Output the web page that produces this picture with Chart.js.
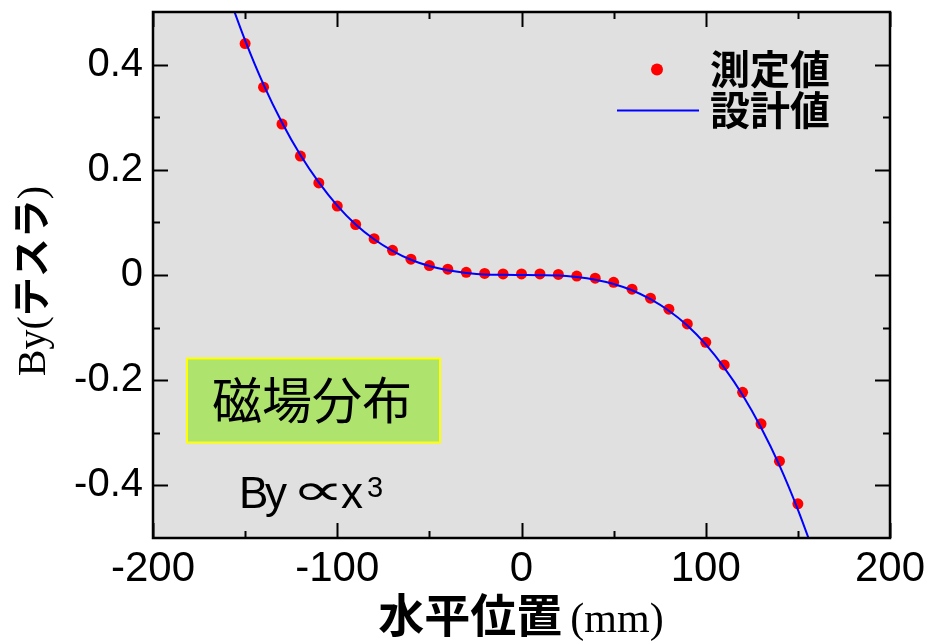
<!DOCTYPE html>
<html>
<head>
<meta charset="utf-8">
<script src="https://cdn.jsdelivr.net/npm/chart.js@4/dist/chart.umd.min.js"></script>
<style>
  html, body { margin: 0; padding: 0; background: #ffffff; }
  #wrap { width: 930px; height: 644px; position: relative; }
</style>
</head>
<body>
<div id="wrap"><canvas id="c" width="930" height="644"></canvas></div>
<script>
// ---- data ----
const positions = [-150,-140,-130,-120,-110,-100,-90,-80,-70,-60,-50,-40,-30,-20,-10,0,10,20,30,40,50,60,70,80,90,100,110,120,130,140,150];
const measuredBy = [0.440,0.357,0.287,0.226,0.175,0.131,0.096,0.069,0.047,0.030,0.018,0.011,0.005,0.003,0.002,0.002,0.002,0.001,-0.002,-0.006,-0.014,-0.027,-0.044,-0.065,-0.093,-0.128,-0.171,-0.223,-0.283,-0.354,-0.435];
const designX = [-160,-150,-140,-130,-120,-110,-100,-90,-80,-70,-60,-50,-40,-30,-20,-10,0,10,20,30,40,50,60,70,80,90,100,110,120,130,140,150,160];
const designBy = [0.541,0.446,0.362,0.290,0.228,0.176,0.132,0.096,0.068,0.046,0.029,0.017,0.009,0.004,0.001,0.0005,0,-0.0005,-0.001,-0.004,-0.009,-0.017,-0.029,-0.046,-0.068,-0.096,-0.132,-0.176,-0.228,-0.290,-0.362,-0.446,-0.541];
const xTickLabels = [-200,-100,0,100,200];
const xMinorTicks = [-150,-50,50,150];
const yTickLabels = [-0.4,-0.2,0,0.2,0.4];
const yMinorTicks = [-0.3,-0.1,0.1,0.3];
const seriesNames = ['測定値','設計値'];
const xTitleMain = '水平位置';
const xTitleUnit = '(mm)';
const yTitleParts = ['By(', 'テスラ', ')'];
const boxLabel = '磁場分布';
const formulaParts = ['B', 'y', '∝', 'x'];
const formulaSup = '3';

const SANS = '"Liberation Sans", Arial, "DejaVu Sans", sans-serif';
const SERIF = '"Liberation Serif", "Times New Roman", serif';
const CJK = '"Noto Sans CJK JP", "Noto Sans CJK SC", sans-serif';

const decor = {
  id: 'decor',
  beforeDatasetsDraw(chart) {
    const {ctx, chartArea: a} = chart;
    ctx.save();
    ctx.fillStyle = '#e0e0e0';
    ctx.fillRect(a.left, a.top, a.right - a.left, a.bottom - a.top);
    ctx.restore();
  },
  afterDatasetsDraw(chart) {
    const {ctx, chartArea: a, scales} = chart;
    const xs = scales.x, ys = scales.y;
    ctx.save();
    ctx.strokeStyle = '#000';
    ctx.lineWidth = 2;
    const xt = (v, len) => {
      const p = Math.round(xs.getPixelForValue(v)) + 0.5;
      ctx.beginPath();
      ctx.moveTo(p, a.bottom); ctx.lineTo(p, a.bottom - len);
      ctx.moveTo(p, a.top); ctx.lineTo(p, a.top + len);
      ctx.stroke();
    };
    xTickLabels.forEach(v => xt(v, 15));
    xMinorTicks.forEach(v => xt(v, 7));
    const yt = (v, len) => {
      const p = Math.round(ys.getPixelForValue(v)) + 0.5;
      ctx.beginPath();
      ctx.moveTo(a.left, p); ctx.lineTo(a.left + len, p);
      ctx.moveTo(a.right, p); ctx.lineTo(a.right - len, p);
      ctx.stroke();
    };
    yTickLabels.forEach(v => yt(v, 15));
    yMinorTicks.forEach(v => yt(v, 7));
    ctx.lineWidth = 2.5;
    ctx.strokeRect(a.left, a.top, a.right - a.left, a.bottom - a.top);
    ctx.restore();
  },
  afterDraw(chart) {
    const {ctx} = chart;
    ctx.save();
    // legend
    ctx.fillStyle = '#ff0000';
    ctx.beginPath(); ctx.arc(657, 69.5, 6, 0, Math.PI * 2); ctx.fill();
    ctx.strokeStyle = '#0000ff'; ctx.lineWidth = 2;
    ctx.beginPath(); ctx.moveTo(617, 110.5); ctx.lineTo(699, 110.5); ctx.stroke();
    ctx.fillStyle = '#000';
    ctx.font = 'bold 40px ' + CJK;
    ctx.textBaseline = 'alphabetic';
    ctx.textAlign = 'left';
    ctx.fillText(seriesNames[0], 710, 84);
    ctx.fillText(seriesNames[1], 710, 125);

    // green label box
    ctx.fillStyle = '#aee36e';
    ctx.fillRect(187, 358.5, 253, 84);
    ctx.strokeStyle = '#ffff00'; ctx.lineWidth = 2;
    ctx.strokeRect(187, 358.5, 253, 84);
    ctx.fillStyle = '#000';
    ctx.font = '50px ' + CJK;
    ctx.textAlign = 'center';
    ctx.fillText(boxLabel, 312, 419);

    // formula, placed piece by piece
    ctx.textAlign = 'left';
    ctx.font = '44px ' + SANS;
    ctx.fillText(formulaParts[0], 239, 508);
    ctx.fillText(formulaParts[1], 265, 508);
    ctx.font = '44px "DejaVu Sans", sans-serif';
    const m = ctx.measureText(formulaParts[2]);
    const gw = (m.actualBoundingBoxRight + m.actualBoundingBoxLeft) || m.width;
    const sc = 39 / gw;
    ctx.save();
    ctx.translate(298, 505);
    ctx.scale(sc, Math.min(sc, 1.0));
    ctx.fillText(formulaParts[2], m.actualBoundingBoxLeft || 0, 0);
    ctx.restore();
    ctx.font = '44px ' + SANS;
    ctx.fillText(formulaParts[3], 341, 508);
    ctx.font = '29px ' + SANS;
    ctx.fillText(formulaSup, 367, 497);

    // x title
    ctx.font = 'bold 46px ' + CJK;
    const w1 = ctx.measureText(xTitleMain).width;
    ctx.font = '42px ' + SERIF;
    const gap = 8;
    const w2 = ctx.measureText(xTitleUnit).width;
    let sx = 521 - (w1 + gap + w2) / 2;
    ctx.font = 'bold 46px ' + CJK;
    ctx.fillText(xTitleMain, sx, 632);
    ctx.font = '42px ' + SERIF;
    ctx.fillText(xTitleUnit, sx + w1 + gap, 632);

    // y title (rotated)
    ctx.translate(0, 281);
    ctx.rotate(-Math.PI / 2);
    const fonts = ['40px ' + SERIF, 'bold 39px ' + CJK, '40px ' + SERIF];
    let tot = 0; const ws = [];
    yTitleParts.forEach((t, i) => { ctx.font = fonts[i]; const w = ctx.measureText(t).width; ws.push(w); tot += w; });
    let px = -tot / 2;
    yTitleParts.forEach((t, i) => { ctx.font = fonts[i]; ctx.fillText(t, px, 45); px += ws[i]; });
    ctx.restore();
  }
};

new Chart(document.getElementById('c'), {
  type: 'scatter',
  data: {
    datasets: [
      {
        type: 'line',
        label: seriesNames[1],
        data: designX.map((x, i) => ({x, y: designBy[i]})),
        borderColor: '#0000ff',
        borderWidth: 2,
        pointRadius: 0,
        fill: false,
        cubicInterpolationMode: 'monotone',
        order: 0
      },
      {
        type: 'scatter',
        label: seriesNames[0],
        data: positions.map((x, i) => ({x, y: measuredBy[i]})),
        backgroundColor: '#ff0000',
        borderColor: '#ff0000',
        borderWidth: 0,
        pointRadius: 5.5,
        order: 1
      }
    ]
  },
  options: {
    responsive: false,
    animation: false,
    devicePixelRatio: 1,
    layout: { padding: { left: 0, right: 40, top: 12, bottom: 0 } },
    plugins: { legend: { display: false }, tooltip: { enabled: false } },
    scales: {
      x: {
        type: 'linear', position: 'bottom', min: -200, max: 200,
        afterBuildTicks: s => { s.ticks = xTickLabels.map(v => ({value: v})); },
        afterFit: s => { s.height = 106; s.paddingLeft = 0; s.paddingRight = 0; },
        grid: { display: false, drawTicks: false },
        border: { display: false },
        ticks: { color: '#000', font: { family: SANS, size: 42 }, padding: 6, maxRotation: 0, autoSkip: false,
                 callback: v => String(v) }
      },
      y: {
        type: 'linear', position: 'left', min: -0.5, max: 0.5,
        afterBuildTicks: s => { s.ticks = yTickLabels.map(v => ({value: v})); },
        afterFit: s => { s.width = 153; s.paddingTop = 0; s.paddingBottom = 0; },
        grid: { display: false, drawTicks: false },
        border: { display: false },
        ticks: { color: '#000', font: { family: SANS, size: 40 }, padding: 10, autoSkip: false,
                 callback: v => String(Math.round(v * 10) / 10) }
      }
    }
  },
  plugins: [decor]
});
</script>
</body>
</html>
